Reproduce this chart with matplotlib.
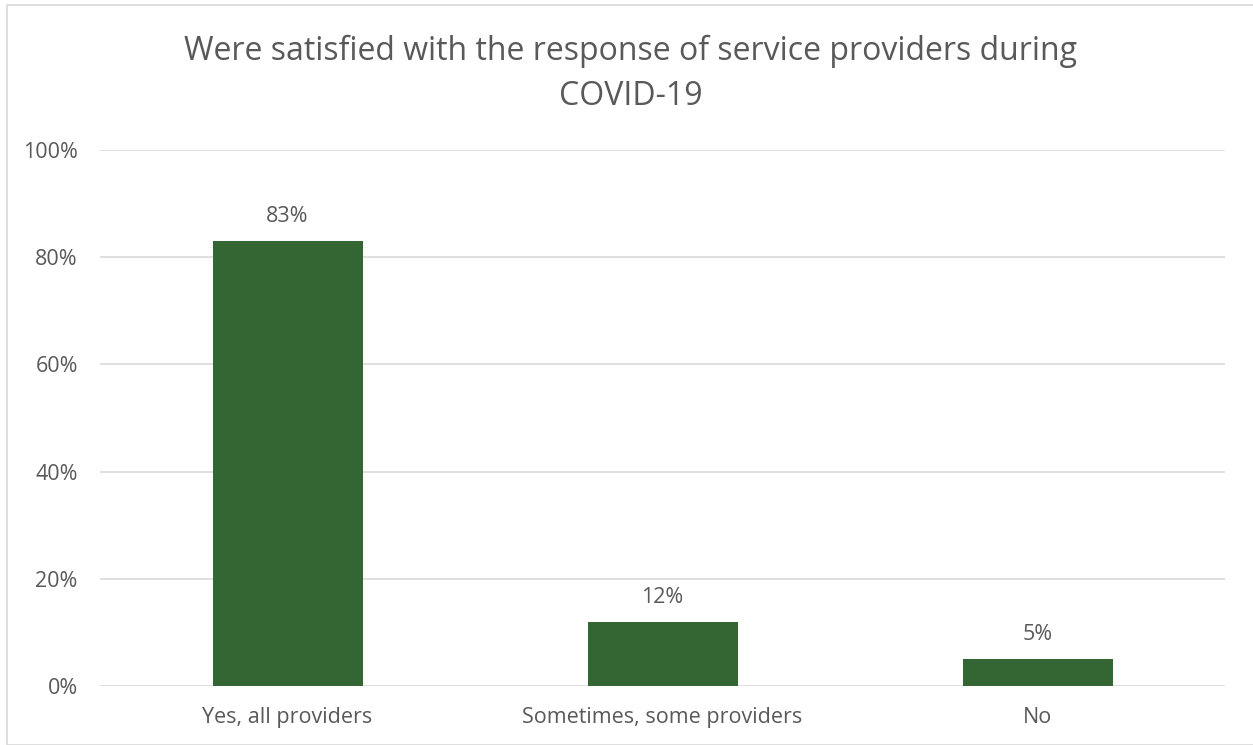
import matplotlib
matplotlib.use("Agg")
import matplotlib.pyplot as plt
from matplotlib.patches import Rectangle

categories = ["Yes, all providers", "Sometimes, some providers", "No"]
values = [83, 12, 5]
yticks = [0, 20, 40, 60, 80, 100]
title = "Were satisfied with the response of service providers during\nCOVID-19"

plt.rcParams['font.family'] = ['Open Sans', 'DejaVu Sans']
txt = '#595959'
grid = '#d9d9d9'
bar_color = '#336633'

fig = plt.figure(figsize=(12.53, 7.45), dpi=100)
ax = fig.add_axes([100/1253, 1-686/745, 1125/1253, 536/745])

x = list(range(len(categories)))
ax.bar(x, values, width=0.4, color=bar_color, zorder=3)
ax.set_xlim(-0.5, len(categories) - 0.5)
ax.set_ylim(0, 100)
ax.set_yticks(yticks)
ax.set_yticklabels([f"{v}%" for v in yticks])
ax.set_xticks(x)
ax.set_xticklabels(categories)
ax.tick_params(axis='both', length=0, labelsize=15.5, colors=txt)
ax.tick_params(axis='x', pad=15)
ax.tick_params(axis='y', pad=16)
for v in yticks:
    ax.axhline(v, color=grid, lw=1.2, zorder=1)
for s in ax.spines.values():
    s.set_visible(False)

for xi, v in zip(x, values):
    ax.annotate(f"{v}%", (xi, v), xytext=(0, 10), textcoords='offset points',
                ha='center', va='bottom', fontsize=15.5, color=txt, zorder=4,
                bbox=dict(facecolor='white', edgecolor='none', pad=5))

fig.text(0.5035, 1-74/745, title, ha='center', va='center', fontsize=23,
         color=txt, linespacing=1.45)

fig.patches.append(Rectangle((7/1253, 0), 1, 1-5/745, transform=fig.transFigure,
                             fill=False, edgecolor=grid, lw=1.2))

fig.savefig("out.png", dpi=100)
